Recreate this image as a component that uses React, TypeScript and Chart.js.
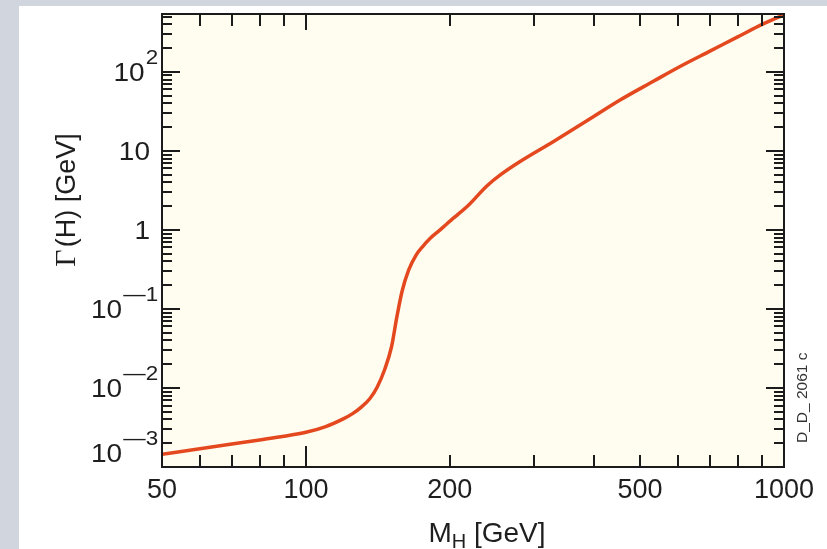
import React, { useEffect, useRef } from "react";
import { Chart, registerables } from "chart.js";

Chart.register(...registerables);

// Higgs mass [GeV]
const higgsMass = [50, 60, 70, 80, 90, 100, 110, 120, 125, 130, 136, 141, 146, 151, 155, 159, 164, 170, 176, 182, 190, 197, 205, 219, 239, 255, 280, 329, 387, 454, 533, 606, 700, 800, 900, 1000];
// Total width Γ(H) [GeV]
const higgsWidth = [0.00145, 0.0017, 0.00195, 0.0022, 0.00245, 0.00275, 0.00325, 0.0041, 0.0047, 0.0056, 0.0073, 0.0103, 0.0169, 0.033, 0.08, 0.17, 0.31, 0.48, 0.63, 0.785, 0.98, 1.19, 1.46, 2.07, 3.6, 4.97, 7.3, 13.1, 24, 44, 76, 117, 183, 277, 399, 527];

const xMin = 50;
const xMax = 1000;
const yMin = 0.001;
const yMax = 540;

const xLabelValues = [50, 100, 200, 500, 1000];
const xMajorTickValues = [100, 1000];
const xMinorTickValues = [60, 70, 80, 90, 200, 300, 400, 500, 600, 700, 800, 900];

const yLabelValues = [0.001, 0.01, 0.1, 1, 10, 100];
const yLabelBase = ["10", "10", "10", "1", "10", "10"];
const yLabelExp = ["\u20143", "\u20142", "\u20141", "", "", "2"];

const xTitleMain = "M";
const xTitleSub = "H";
const xTitleRest = " [GeV]";
const yTitleSymbol = "\u0393";
const yTitleRest = "(H) [GeV]";
const stampText = "D_D_ 2061 c";

const SANS = '"Liberation Sans", Arial, sans-serif';
const SERIF = '"Liberation Serif", "DejaVu Serif", serif';

const decorPlugin = {
  id: "decor",
  beforeDatasetsDraw(chart: any) {
    const { ctx, chartArea } = chart;
    const { left, right, top, bottom } = chartArea;
    ctx.save();
    ctx.fillStyle = "#fffcf0";
    ctx.fillRect(left, top, right - left, bottom - top);
    ctx.restore();
  },
  afterDatasetsDraw(chart: any) {
    const { ctx, chartArea, scales } = chart;
    const { left, right, top, bottom } = chartArea;
    const xs = scales.x;
    const ys = scales.y;
    ctx.save();
    ctx.strokeStyle = "#1b1b1b";
    ctx.lineWidth = 2;
    ctx.lineCap = "butt";

    const line = (x1: number, y1: number, x2: number, y2: number) => {
      ctx.beginPath();
      ctx.moveTo(x1, y1);
      ctx.lineTo(x2, y2);
      ctx.stroke();
    };

    // y ticks (both sides, inward)
    const yMinor: number[] = [];
    for (let d = -3; d <= 2; d++) {
      for (let m = 2; m <= 9; m++) {
        const v = m * Math.pow(10, d);
        if (v > yMin && v < yMax) yMinor.push(v);
      }
    }
    yMinor.forEach((v) => {
      const py = Math.round(ys.getPixelForValue(v));
      line(left, py, left + 10, py);
      line(right, py, right - 10, py);
    });
    yLabelValues.forEach((v) => {
      const py = Math.round(ys.getPixelForValue(v));
      line(left, py, left + 18, py);
      line(right, py, right - 18, py);
    });

    // x ticks (top and bottom, inward)
    xMinorTickValues.forEach((v) => {
      const px = Math.round(xs.getPixelForValue(v));
      line(px, bottom, px, bottom - 12);
      line(px, top, px, top + 12);
    });
    xMajorTickValues.forEach((v) => {
      const px = Math.round(xs.getPixelForValue(v));
      line(px, bottom, px, bottom - 21);
      line(px, top, px, top + 16);
    });

    // frame
    ctx.strokeRect(left, top, right - left, bottom - top);

    ctx.fillStyle = "#1e1e1e";

    // x tick labels
    ctx.font = `27px ${SANS}`;
    ctx.textAlign = "center";
    ctx.textBaseline = "alphabetic";
    xLabelValues.forEach((v) => {
      const px = xs.getPixelForValue(v);
      ctx.fillText(String(v), px, bottom + 31);
    });

    // y tick labels (slightly widened glyphs)
    const stretch = 1.12;
    const baseSize = 25;
    const supSize = 20;
    const capH = baseSize * 0.716;
    yLabelValues.forEach((v, i) => {
      let cy = ys.getPixelForValue(v);
      cy = Math.min(cy, bottom - 14);
      const baseline = cy + capH / 2;
      const base = yLabelBase[i];
      const exp = yLabelExp[i];
      ctx.textAlign = "left";
      ctx.font = `${baseSize}px ${SANS}`;
      const wBase = ctx.measureText(base).width * stretch;
      ctx.font = `${supSize}px ${SANS}`;
      const wExp = exp ? ctx.measureText(exp).width * stretch : 0;
      const rightEdge = exp ? left - 5 : left - 12;
      const x0 = rightEdge - wBase - wExp;
      ctx.save();
      ctx.translate(x0, baseline);
      ctx.scale(stretch, 1);
      ctx.font = `${baseSize}px ${SANS}`;
      ctx.fillText(base, 0, 0);
      if (exp) {
        ctx.font = `${supSize}px ${SANS}`;
        ctx.fillText(exp, wBase / stretch + 1, -capH + 1);
      }
      ctx.restore();
    });

    // x title: M_H [GeV]
    ctx.textAlign = "left";
    const tSize = 28;
    ctx.font = `${tSize}px ${SANS}`;
    const wM = ctx.measureText(xTitleMain).width;
    const wRest = ctx.measureText(xTitleRest).width;
    ctx.font = `20px ${SANS}`;
    const wSub = ctx.measureText(xTitleSub).width;
    const total = wM + wSub + wRest;
    const xc = 487;
    let tx = xc - total / 2;
    const tBase = 542;
    ctx.font = `${tSize}px ${SANS}`;
    ctx.fillText(xTitleMain, tx, tBase);
    tx += wM;
    ctx.font = `20px ${SANS}`;
    ctx.fillText(xTitleSub, tx, tBase + 6);
    tx += wSub;
    ctx.font = `${tSize}px ${SANS}`;
    ctx.fillText(xTitleRest, tx, tBase);

    // y title: Γ(H) [GeV]
    ctx.save();
    ctx.translate(75, 200);
    ctx.rotate(-Math.PI / 2);
    ctx.font = `30px ${SERIF}`;
    const wG = ctx.measureText(yTitleSymbol).width;
    ctx.font = `27px ${SANS}`;
    const wY = ctx.measureText(yTitleRest).width;
    const tot = wG + wY + 2;
    ctx.textAlign = "left";
    ctx.font = `30px ${SERIF}`;
    ctx.fillText(yTitleSymbol, -tot / 2, 0);
    ctx.font = `27px ${SANS}`;
    ctx.fillText(yTitleRest, -tot / 2 + wG + 2, 0);
    ctx.restore();

    // stamp
    ctx.save();
    ctx.translate(807, 443);
    ctx.rotate(-Math.PI / 2);
    ctx.font = `15.5px ${SANS}`;
    ctx.fillStyle = "#333";
    ctx.textAlign = "left";
    ctx.fillText(stampText, 0, 0);
    ctx.restore();

    ctx.restore();
  },
};

export default function App() {
  const canvasRef = useRef<HTMLCanvasElement | null>(null);

  useEffect(() => {
    if (!canvasRef.current) return;
    const points = higgsMass.map((m, i) => ({ x: m, y: higgsWidth[i] }));
    const chart = new Chart(canvasRef.current, {
      type: "line",
      data: {
        datasets: [
          {
            data: points,
            borderColor: "#e4481e",
            borderWidth: 3.5,
            pointRadius: 0,
            fill: false,
            cubicInterpolationMode: "monotone",
          },
        ],
      },
      options: {
        animation: false,
        responsive: false,
        devicePixelRatio: 1,
        layout: { padding: { left: 162, right: 43, top: 14, bottom: 82 } },
        scales: {
          x: { type: "logarithmic", min: xMin, max: xMax, display: false },
          y: { type: "logarithmic", min: yMin, max: yMax, display: false },
        },
        plugins: {
          legend: { display: false },
          tooltip: { enabled: false },
        },
      },
      plugins: [decorPlugin],
    } as any);
    return () => chart.destroy();
  }, []);

  return (
    <div style={{ position: "fixed", left: 0, top: 0, width: 827, height: 549, background: "#d1d5dd" }}>
      <div style={{ position: "absolute", left: 19, top: 6, right: 0, bottom: 0, background: "#ffffff" }} />
      <canvas ref={canvasRef} width={827} height={549} style={{ position: "absolute", left: 0, top: 0 }} />
    </div>
  );
}
